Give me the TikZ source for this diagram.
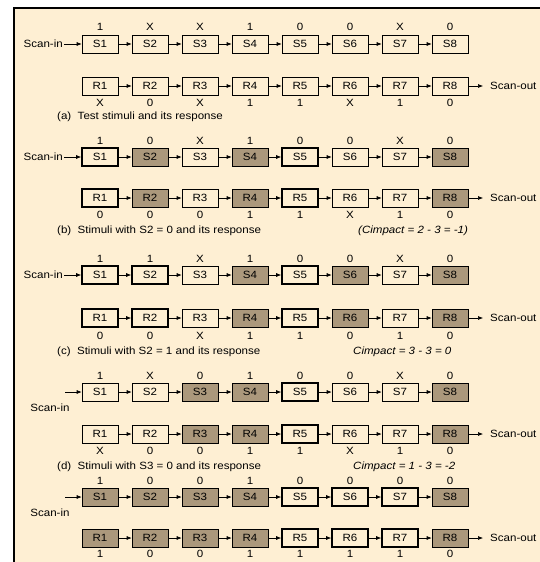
\documentclass[tikz,border=0pt]{standalone}
\usepackage{fontspec}
\setmainfont[FakeStretch=1.1]{Liberation Sans}
\usetikzlibrary{arrows.meta}

\definecolor{paper}{RGB}{254,239,211}
\definecolor{held}{RGB}{171,152,124}

\tikzset{
  cell/.style={draw, line width=0.6pt, minimum width=36pt, minimum height=18pt, inner sep=0pt},
  free/.style={cell},
  kept/.style={cell, line width=1.6pt},
  fixed/.style={cell, fill=held},
  bit/.style={inner sep=0pt},
  link/.style={-{Latex[length=5pt,width=4pt]}, line width=0.6pt},
  note/.style={anchor=west, inner sep=1pt},
}

% one chain of eight cells with the bits beside them
\newcommand{\scanrow}[5]{%
  \foreach \st/\val [count=\i] in {#4} {
    \node[\st] (#1\i) at ({50+50*\i},#2) {#3\i};
    \node[bit] (#1v\i) at ({50+50*\i},#2+#5) {\val};
  }
  \foreach \i [count=\j from 2] in {1,...,7}
    \draw[link] (#1\i) -- (#1\j);
}

\begin{document}
\begin{tikzpicture}[x=1pt, y=-1pt, font=\fontsize{10.5}{12}\selectfont]
  \useasboundingbox (0,0) rectangle (540,562);
  \clip (0,0) rectangle (540,562);
  \fill[paper] (13.5,8) rectangle (560,580);
  \draw[line width=2pt] (13.5,580) -- (13.5,8) -- (560,8);

  % (a)
  \scanrow{sa}{44}{S}{free/1, free/X, free/X, free/1, free/0, free/0, free/X, free/0}{-17}
  \scanrow{ra}{86}{R}{free/X, free/0, free/X, free/1, free/1, free/X, free/1, free/0}{17}
  \node[anchor=east, inner sep=1pt] (ina) at (64,44) {Scan-in};
  \draw[link] (ina) -- (sa1);
  \node[note] (outa) at (489,86) {Scan-out};
  \draw[link, shorten >=6pt] (ra8) -- (outa);
  \node[note] (capa) at (56,117) {(a)\ \ Test stimuli and its response};

  % (b)
  \scanrow{sb}{157}{S}{kept/1, fixed/0, free/X, fixed/1, kept/0, free/0, free/X, fixed/0}{-16}
  \scanrow{rb}{198}{R}{kept/0, fixed/0, free/0, fixed/1, kept/1, free/X, free/1, fixed/0}{17}
  \node[anchor=east, inner sep=1pt] (inb) at (64,157) {Scan-in};
  \draw[link] (inb) -- (sb1);
  \node[note] (outb) at (489,198) {Scan-out};
  \draw[link, shorten >=6pt] (rb8) -- (outb);
  \node[note] (capb) at (56,231) {(b)\ \ Stimuli with S2 = 0 and its response};
  \node[note, font=\fontsize{10.5}{12}\selectfont\itshape] (cib) at (357,231) {(Cimpact = 2 - 3 = -1)};

  % (c)
  \scanrow{sc}{275}{S}{kept/1, kept/1, free/X, fixed/1, kept/0, fixed/0, free/X, fixed/0}{-16}
  \scanrow{rc}{318}{R}{kept/0, kept/0, free/X, fixed/1, kept/1, fixed/0, free/1, fixed/0}{18}
  \node[anchor=east, inner sep=1pt] (inc) at (64,275) {Scan-in};
  \draw[link] (inc) -- (sc1);
  \node[note] (outc) at (489,318) {Scan-out};
  \draw[link, shorten >=6pt] (rc8) -- (outc);
  \node[note] (capc) at (56,352) {(c)\ \ Stimuli with S2 = 1 and its response};
  \node[note, font=\fontsize{10.5}{12}\selectfont\itshape] (cic) at (352,352) {Cimpact = 3 - 3 = 0};

  % (d)
  \scanrow{sd}{392}{S}{free/1, free/X, fixed/0, fixed/1, kept/0, free/0, free/X, fixed/0}{-16}
  \scanrow{rd}{434}{R}{free/X, free/0, fixed/0, fixed/1, kept/1, free/X, free/1, fixed/0}{17}
  \coordinate (ind) at (65,392);
  \node (ind-l) at (50,408) {Scan-in};
  \draw[link] (ind) -- (sd1);
  \node[note] (outd) at (489,434) {Scan-out};
  \draw[link, shorten >=6pt] (rd8) -- (outd);
  \node[note] (capd) at (56,467) {(d)\ \ Stimuli with S3 = 0 and its response};
  \node[note, font=\fontsize{10.5}{12}\selectfont\itshape] (cid) at (352,467) {Cimpact = 1 - 3 = -2};

  % (e)
  \scanrow{se}{497}{S}{fixed/1, fixed/0, fixed/0, fixed/1, kept/0, kept/0, kept/0, fixed/0}{-16}
  \scanrow{re}{538}{R}{fixed/1, fixed/0, fixed/0, fixed/1, kept/1, kept/1, kept/1, fixed/0}{16}
  \coordinate (ine) at (65,497);
  \node (ine-l) at (50,513) {Scan-in};
  \draw[link] (ine) -- (se1);
  \node[note] (oute) at (489,538) {Scan-out};
  \draw[link, shorten >=6pt] (re8) -- (oute);
\end{tikzpicture}
\end{document}
